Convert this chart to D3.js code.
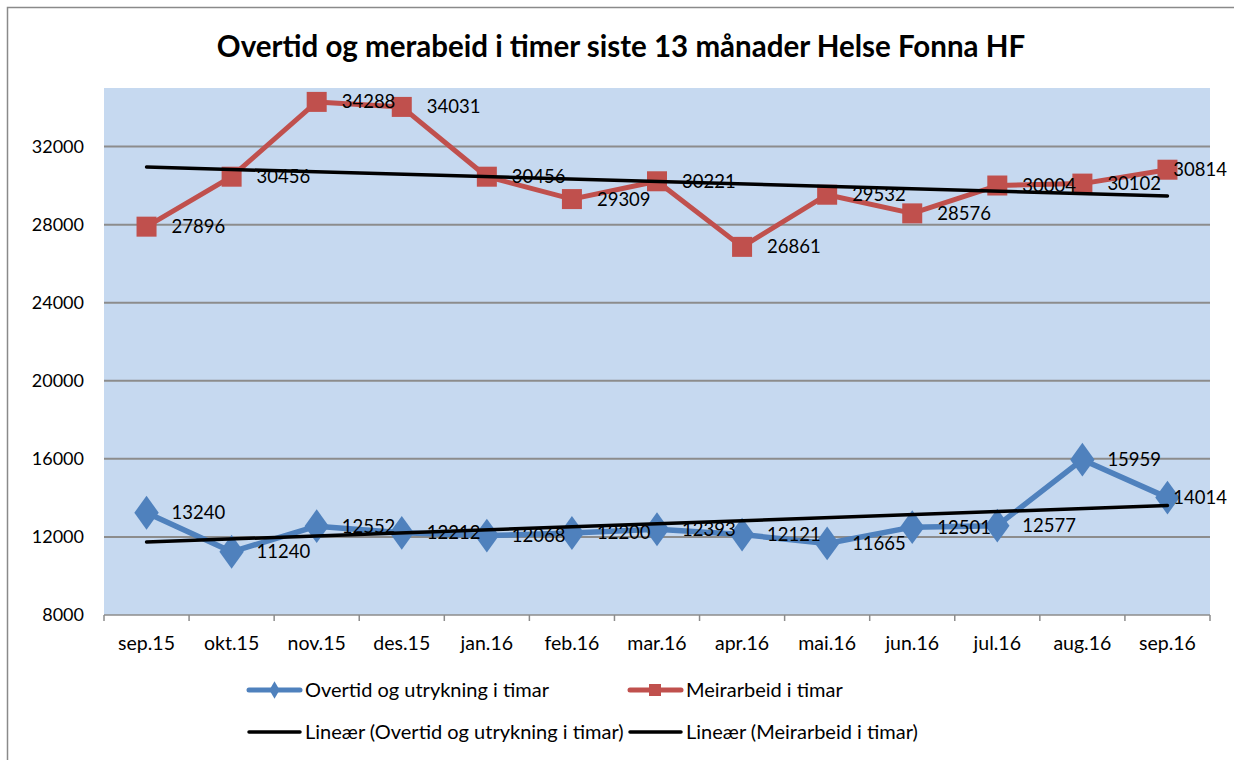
<!DOCTYPE html>
<html>
<head>
<meta charset="utf-8">
<script src="https://cdn.jsdelivr.net/npm/d3@7.9.0/dist/d3.min.js"></script>
<style>
  body { margin: 0; background: #fff; }
  svg text { font-family: Lato, "Open Sans", sans-serif; fill: #000; }
</style>
</head>
<body>
<svg id="chart" width="1234" height="760"></svg>
<script>
// data
const months   = ['sep.15','okt.15','nov.15','des.15','jan.16','feb.16','mar.16','apr.16','mai.16','jun.16','jul.16','aug.16','sep.16'];
const overtid  = [13240, 11240, 12552, 12212, 12068, 12200, 12393, 12121, 11665, 12501, 12577, 15959, 14014];
const meirarb  = [27896, 30456, 34288, 34031, 30456, 29309, 30221, 26861, 29532, 28576, 30004, 30102, 30814];
// trend lines (start / end values as read)
const trendOvertid = [11740, 13610];
const trendMeirarb = [30950, 29470];
const yTicks   = [8000, 12000, 16000, 20000, 24000, 28000, 32000];

const blue = '#4f81bd', red = '#c0504d';

const svg = d3.select('#chart');
const plot = { left: 104, right: 1210, top: 88, bottom: 615 };

// outer chart border (only left/top visible in frame)
svg.append('rect')
  .attr('x', 7.5).attr('y', 7.5)
  .attr('width', 1240).attr('height', 780)
  .attr('fill', 'none').attr('stroke', '#8a8a8a').attr('stroke-width', 1.5);

// title
svg.append('text')
  .attr('x', 621).attr('y', 57)
  .attr('text-anchor', 'middle')
  .style('font-weight', 700)
  .style('font-size', '29.5px')
  .text('Overtid og merabeid i timer siste 13 månader Helse Fonna HF');

const x = d3.scaleBand().domain(months).range([plot.left, plot.right]);
const y = d3.scaleLinear().domain([8000, 35000]).range([plot.bottom, plot.top]);
const cx = d => x(d) + x.bandwidth() / 2;

// plot background
svg.append('rect')
  .attr('x', plot.left).attr('y', plot.top)
  .attr('width', plot.right - plot.left).attr('height', plot.bottom - plot.top)
  .attr('fill', '#c6d9f0');

// gridlines
svg.append('g').selectAll('line')
  .data(yTicks.slice(1))
  .join('line')
    .attr('x1', plot.left).attr('x2', plot.right)
    .attr('y1', d => y(d)).attr('y2', d => y(d))
    .attr('stroke', '#8c8c8c').attr('stroke-width', 2);

// y labels
svg.append('g').selectAll('text')
  .data(yTicks)
  .join('text')
    .attr('x', 84).attr('y', d => y(d))
    .attr('dy', '0.35em')
    .attr('text-anchor', 'end')
    .style('font-size', '18px')
    .text(d => d);

// x axis
const xAxis = svg.append('g')
  .attr('transform', `translate(0,${plot.bottom})`);
xAxis.append('line')
  .attr('x1', plot.left).attr('x2', plot.right)
  .attr('stroke', '#8c8c8c').attr('stroke-width', 1.5);
xAxis.selectAll('line.tick')
  .data(months.concat(['end']))
  .join('line')
    .attr('class', 'tick')
    .attr('x1', (d, i) => plot.left + i * x.bandwidth())
    .attr('x2', (d, i) => plot.left + i * x.bandwidth())
    .attr('y1', 0).attr('y2', 6)
    .attr('stroke', '#8c8c8c').attr('stroke-width', 1.5);
xAxis.selectAll('text')
  .data(months)
  .join('text')
    .attr('x', d => cx(d)).attr('y', 28)
    .attr('dy', '0.35em')
    .attr('text-anchor', 'middle')
    .style('font-size', '19.5px')
    .text(d => d);

const line = d3.line().x((d, i) => cx(months[i])).y(d => y(d));

// series: Meirarbeid
svg.append('path')
  .datum(meirarb)
  .attr('d', line)
  .attr('fill', 'none').attr('stroke', red).attr('stroke-width', 5)
  .attr('stroke-linejoin', 'round');
svg.append('g').selectAll('rect')
  .data(meirarb)
  .join('rect')
    .attr('x', (d, i) => cx(months[i]) - 10)
    .attr('y', d => y(d) - 10)
    .attr('width', 20).attr('height', 20)
    .attr('fill', red);

// series: Overtid
svg.append('path')
  .datum(overtid)
  .attr('d', line)
  .attr('fill', 'none').attr('stroke', blue).attr('stroke-width', 5.5)
  .attr('stroke-linejoin', 'round');
const diamond = d3.symbol().type(d3.symbolDiamond).size(330);
svg.append('g').selectAll('path')
  .data(overtid)
  .join('path')
    .attr('d', diamond)
    .attr('transform', (d, i) => `translate(${cx(months[i])},${y(d)}) scale(1.25,1)`)
    .attr('fill', blue);

// trend lines
function trend(vals) {
  svg.append('line')
    .attr('x1', cx(months[0])).attr('y1', y(vals[0]))
    .attr('x2', cx(months[months.length - 1])).attr('y2', y(vals[1]))
    .attr('stroke', '#000').attr('stroke-width', 3.5)
    .attr('stroke-linecap', 'round');
}
trend(trendMeirarb);
trend(trendOvertid);

// data labels, right of each point, kept inside the chart
function labels(vals) {
  svg.append('g').selectAll('text')
    .data(vals)
    .join('text')
      .attr('y', d => y(d))
      .attr('dy', '0.35em')
      .style('font-size', '18.5px')
      .text(d => d)
      .each(function (d, i) {
        const w = this.getComputedTextLength();
        const lx = Math.min(cx(months[i]) + 25, 1227 - w);
        d3.select(this).attr('x', lx);
      });
}
labels(meirarb);
labels(overtid);

// legend
const legend = [
  { label: 'Overtid og utrykning i timar', color: blue, mark: 'diamond', x: 247, y: 690 },
  { label: 'Meirarbeid i timar', color: red, mark: 'square', x: 628, y: 690 },
  { label: 'Lineær (Overtid og utrykning i timar)', color: '#000', mark: null, x: 247, y: 732 },
  { label: 'Lineær (Meirarbeid i timar)', color: '#000', mark: null, x: 628, y: 732 }
];
const lg = svg.append('g').selectAll('g')
  .data(legend)
  .join('g')
    .attr('transform', d => `translate(${d.x},${d.y})`);
lg.append('line')
  .attr('x1', 2).attr('x2', 53)
  .attr('stroke', d => d.color)
  .attr('stroke-width', d => d.mark ? 5 : 3.5)
  .attr('stroke-linecap', 'round');
lg.filter(d => d.mark === 'square').append('rect')
  .attr('x', 21).attr('y', -6).attr('width', 12).attr('height', 12)
  .attr('fill', red);
lg.filter(d => d.mark === 'diamond').append('path')
  .attr('d', d3.symbol().type(d3.symbolDiamond).size(90))
  .attr('transform', 'translate(27.5,0)')
  .attr('fill', blue);
lg.append('text')
  .attr('x', 58).attr('dy', '0.35em')
  .style('font-size', '20px')
  .text(d => d.label);
</script>
</body>
</html>
